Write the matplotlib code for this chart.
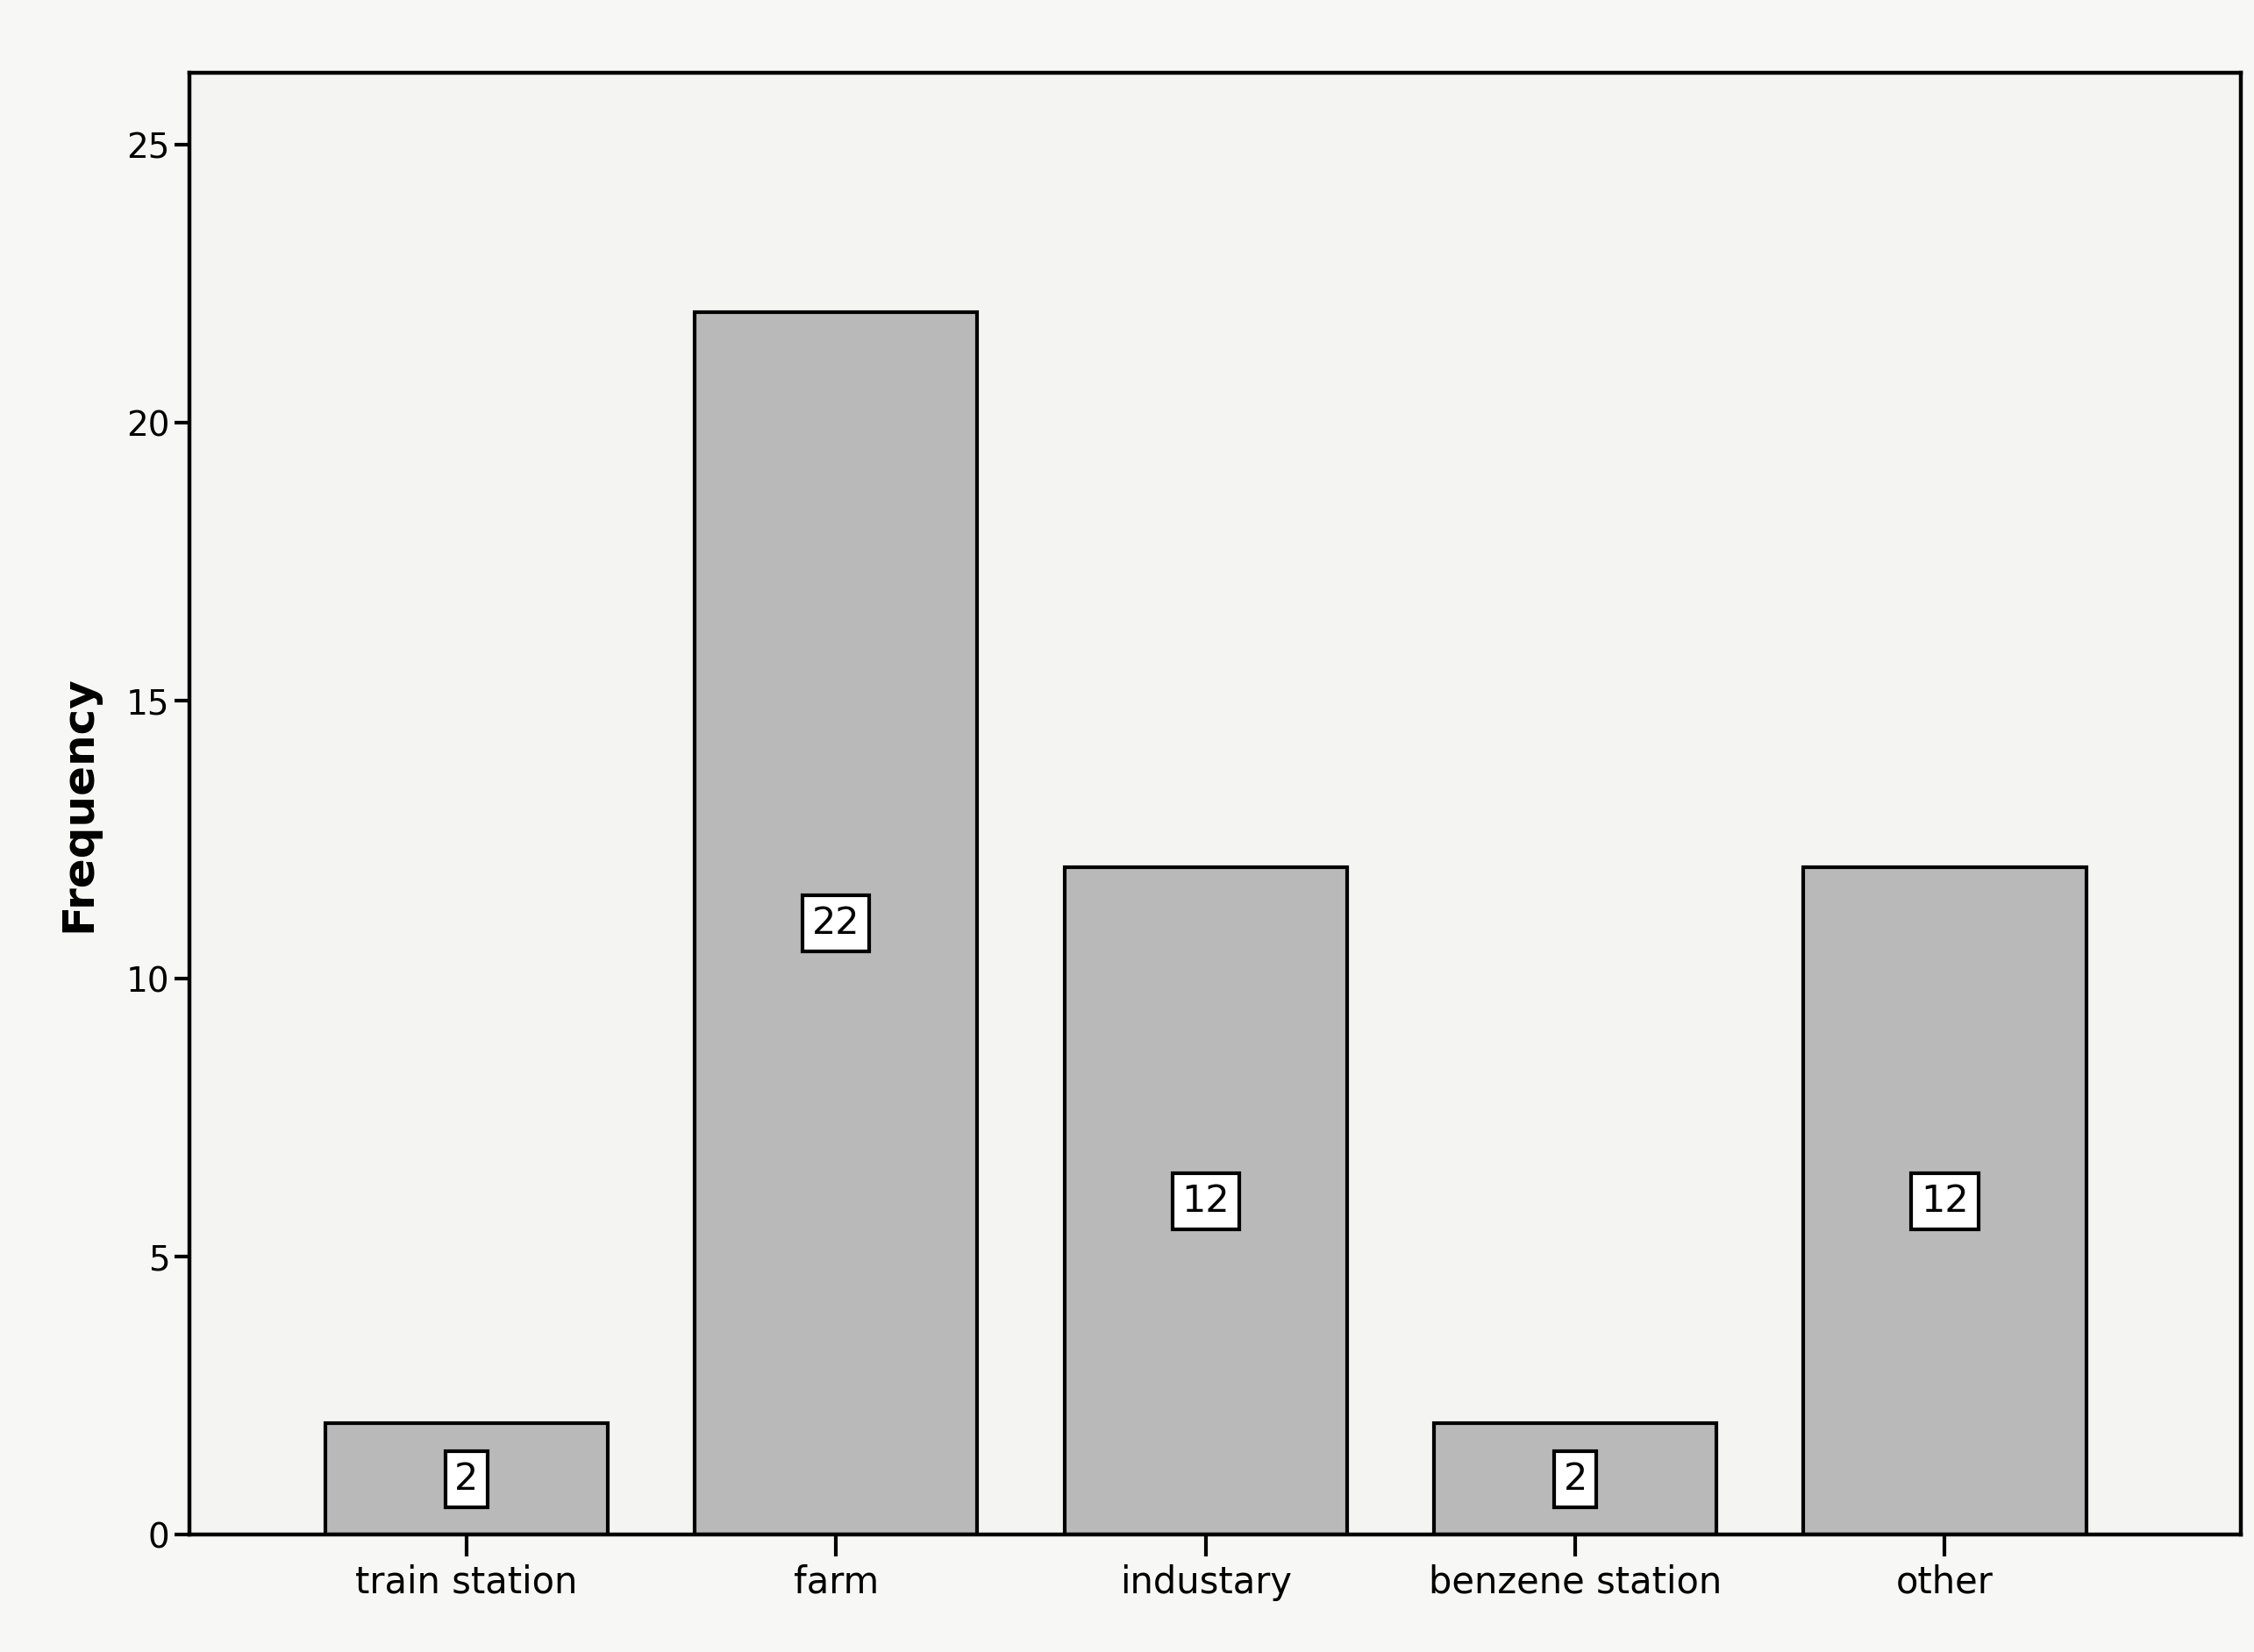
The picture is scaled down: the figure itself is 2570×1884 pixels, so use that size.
import matplotlib.pyplot as plt

categories = ['train station', 'farm', 'industary', 'benzene station', 'other']
counts = [2, 22, 12, 2, 12]
yticks = [0, 5, 10, 15, 20, 25]

plt.rcParams['font.family'] = ['DejaVu Sans']

fig = plt.figure(figsize=(25.7, 18.84), dpi=100)
fig.patch.set_facecolor('#f7f7f5')
ax = fig.add_axes([0.084, 0.071, 0.91, 0.885])
ax.set_facecolor('#f4f4f2')

x = list(range(len(categories)))
bars = ax.bar(x, counts, width=0.765, color='#b9b9b9', edgecolor='black', linewidth=3)

# count label in a white box at mid-height of each bar
for xi, c in zip(x, counts):
    ax.text(xi, c / 2, str(c), ha='center', va='center', fontsize=31,
            bbox=dict(boxstyle='square,pad=0.25', facecolor='white', edgecolor='black', linewidth=3))

ax.set_xlim(-0.75, 4.8)
ax.set_ylim(0, 26.3)
ax.set_xticks(x)
ax.set_xticklabels(categories, fontsize=30)
ax.set_yticks(yticks)
ax.set_yticklabels([str(t) for t in yticks], fontsize=28)
ax.tick_params(axis='y', direction='out', length=12, width=3, pad=4)
ax.tick_params(axis='x', direction='out', length=18, width=3, pad=6)
ax.set_ylabel('Frequency', fontsize=36, fontweight='bold', labelpad=22)

for s in ax.spines.values():
    s.set_linewidth(3.2)
    s.set_color('black')

fig.savefig('out.png', dpi=100, facecolor=fig.get_facecolor())
